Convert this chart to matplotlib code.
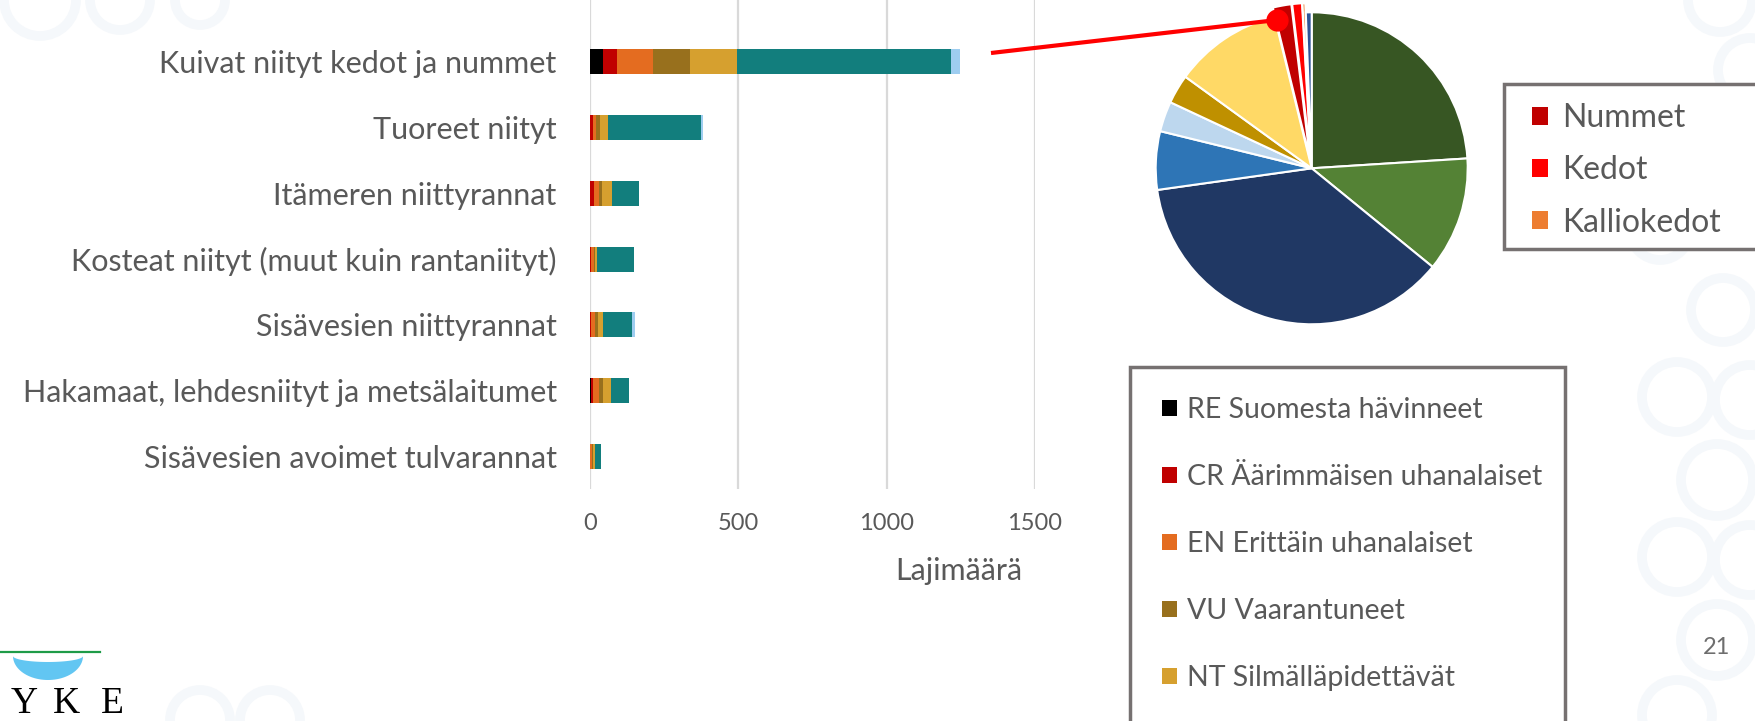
import matplotlib
matplotlib.use("Agg")
import matplotlib.pyplot as plt
from matplotlib.patches import Patch, Rectangle, Circle, Polygon
from matplotlib.lines import Line2D
import numpy as np

W, H = 1756, 721
plt.rcParams['font.family'] = ['Lato', 'DejaVu Sans']
GREY = '#595959'

# ---------------- data ----------------
categories = ["Kuivat niityt kedot ja nummet", "Tuoreet niityt", "Itämeren niittyrannat",
              "Kosteat niityt (muut kuin rantaniityt)", "Sisävesien niittyrannat",
              "Hakamaat, lehdesniityt ja metsälaitumet", "Sisävesien avoimet tulvarannat"]
re_vals = [45, 0, 0, 0, 0, 5, 0]
cr_vals = [45, 9, 13, 3, 5, 5, 1]
en_vals = [122, 11, 18, 12, 12, 21, 5]
vu_vals = [126, 14, 9, 3, 11, 12, 4]
nt_vals = [158, 26, 34, 4, 17, 27, 8]
lc_vals = [720, 314, 90, 128, 96, 61, 20]
dd_vals = [32, 6, 0, 0, 12, 0, 0]
series_labels = ["RE Suomesta hävinneet", "CR Äärimmäisen uhanalaiset", "EN Erittäin uhanalaiset",
                 "VU Vaarantuneet", "NT Silmälläpidettävät", "LC Elinvoimaiset",
                 "DD Puutteellisesti tunnetut"]
series_colors = ['#000000', '#C00000', '#E46C20', '#98701D', '#D6A02F', '#127E7D', '#9ECDF0']
legend_visible = 5   # entries of the series legend that fit on the slide
xticks = [0, 500, 1000, 1500]
xlabel = "Lajimäärä"

pie_values = [23.8, 11.8, 36.6, 6.0, 3.1, 3.0, 11.1, 1.9, 1.0, 0.3, 0.6]
pie_colors = ['#375623', '#548235', '#203864', '#2E75B6', '#BDD7EE', '#BF9000', '#FFD966',
              '#C00000', '#FF0000', '#ED7D31', '#2F5597']
pie_explode = [0, 0, 0, 0, 0, 0, 0, 0.06, 0.06, 0.06, 0]
pie_legend_labels = ["Nummet", "Kedot", "Kalliokedot"]
pie_legend_idx = [7, 8, 9]

fig = plt.figure(figsize=(W / 100, H / 100), dpi=100)
fig.patch.set_facecolor('white')
T = fig.dpi_scale_trans


def P(x, y):
    return (x / 100.0, (H - y) / 100.0)


# ---------------- faint background rings ----------------
rings = [(1723, 310, 32), (1677, 397, 35), (1750, 400, 35), (1717, 480, 36),
         (1677, 557, 35), (1750, 560, 35), (1717, 640, 36), (1677, 715, 35),
         (1720, 150, 32), (1750, 70, 32), (1720, 0, 32),
         (40, 0, 36), (120, 0, 30), (200, 0, 25),
         (200, 720, 30), (270, 720, 30), (1660, 230, 30)]
for (x, y, r) in rings:
    fig.add_artist(Circle(P(x, y), r / 100.0, transform=T, fill=False,
                          edgecolor='#F5F8FB', linewidth=7, zorder=-5))

# ---------------- bar chart ----------------
ax = fig.add_axes([590 / W, 1 - 489 / H, (1035 - 590) / W, 489 / H])
ax.set_facecolor('none')
ypos = np.arange(len(categories))
left = np.zeros(len(categories))
all_series = [re_vals, cr_vals, en_vals, vu_vals, nt_vals, lc_vals, dd_vals]
for vals, lab, col in zip(all_series, series_labels, series_colors):
    ax.barh(ypos, vals, left=left, height=0.38, color=col, label=lab, zorder=3)
    left += np.array(vals)
ax.set_xlim(0, 1500)
ax.set_ylim(6.5, 6.5 - 489 / 65.7)
ax.set_xticks(xticks)
ax.set_yticks(ypos)
ax.set_yticklabels(categories)
ax.tick_params(axis='y', length=0, pad=24, labelsize=22, labelcolor=GREY)
ax.tick_params(axis='x', length=0, pad=17, labelsize=17, labelcolor=GREY)
for s in ax.spines.values():
    s.set_visible(False)
ax.xaxis.grid(True, color='#D9D9D9', linewidth=1.6, zorder=0)
ax.set_axisbelow(True)
ax.set_xlabel(xlabel, fontsize=22, color=GREY)
ax.xaxis.set_label_coords((959 - 590) / (1035 - 590), (489 - 557) / 489)

# ---------------- pie ----------------
cx, cy, r = 1311.7, 168.3, 156
half = r * 1.3
pax = fig.add_axes([(cx - half) / W, 1 - (cy + half) / H, 2 * half / W, 2 * half / H])
wedges, _ = pax.pie(pie_values, colors=pie_colors, explode=pie_explode, startangle=90,
                    counterclock=False, radius=1.0,
                    wedgeprops=dict(edgecolor='white', linewidth=1.5))
pax.set_xlim(-1.3, 1.3)
pax.set_ylim(-1.3, 1.3)
pax.axis('off')

# connector line
x0, y0 = P(991, 53)
x1, y1 = P(1277, 20)
fig.add_artist(Line2D([x0, x1], [y0, y1], transform=T, color='#FF0000', linewidth=3, zorder=10,
                      solid_capstyle='butt'))
fig.add_artist(Line2D([x1], [y1], transform=T, color='#FF0000', marker='o', markersize=15,
                      linestyle='none', zorder=11))

# ---------------- legends ----------------
fig.add_artist(Rectangle(P(1504, 249), (1770 - 1504) / 100, (249 - 84) / 100, transform=T,
                         fill=True, facecolor='white', edgecolor='#767171', linewidth=2.5, zorder=4))
h1 = [Patch(facecolor=pie_colors[i]) for i in pie_legend_idx]
lx, ly = P(1532, 103)
fig.legend(h1, pie_legend_labels, loc='upper left', bbox_to_anchor=(lx, ly), bbox_transform=T,
           frameon=False, fontsize=23, labelcolor=GREY, handlelength=0.5, handleheight=0.5,
           handletextpad=0.44, labelspacing=0.70, borderpad=0, borderaxespad=0)

fig.add_artist(Rectangle(P(1130, 740), (1565 - 1130) / 100, (740 - 367) / 100, transform=T,
                         fill=True, facecolor='white', edgecolor='#767171', linewidth=2.5, zorder=4))
h2 = [Patch(facecolor=c) for c in series_colors[:legend_visible]]
lx, ly = P(1162, 397)
fig.legend(h2, series_labels[:legend_visible], loc='upper left', bbox_to_anchor=(lx, ly),
           bbox_transform=T, frameon=False, fontsize=20.5, labelcolor=GREY,
           handlelength=0.53, handleheight=0.53, handletextpad=0.35, labelspacing=1.44,
           borderpad=0, borderaxespad=0)

# ---------------- logo & page number ----------------
fig.add_artist(Line2D([P(0, 652)[0], P(100, 652)[0]], [P(0, 652)[1], P(100, 652)[1]],
                      transform=T, color='#1E9B48', linewidth=1.6))
t = np.linspace(0, np.pi, 60)
outer = [P(48 + 35 * np.cos(a), 656 + 24 * np.sin(a)) for a in t]
inner = [P(48 + 35 * np.cos(a), 656 + 6 * np.sin(a)) for a in t[::-1]]
fig.add_artist(Polygon(outer + inner, closed=True, transform=T, facecolor='#62C6F2',
                       edgecolor='none'))
for letter, x in zip(["Y", "K", "E"], [24, 66, 112]):
    fig.text(*P(x, 713), letter, transform=T, ha='center', va='baseline',
             fontsize=27, family='Liberation Serif', color='black')
fig.text(*P(1717, 648), "21", transform=T, ha='center', va='center', fontsize=17,
         color='#6E6E6E')

fig.savefig('out.png', dpi=100, facecolor='white')
